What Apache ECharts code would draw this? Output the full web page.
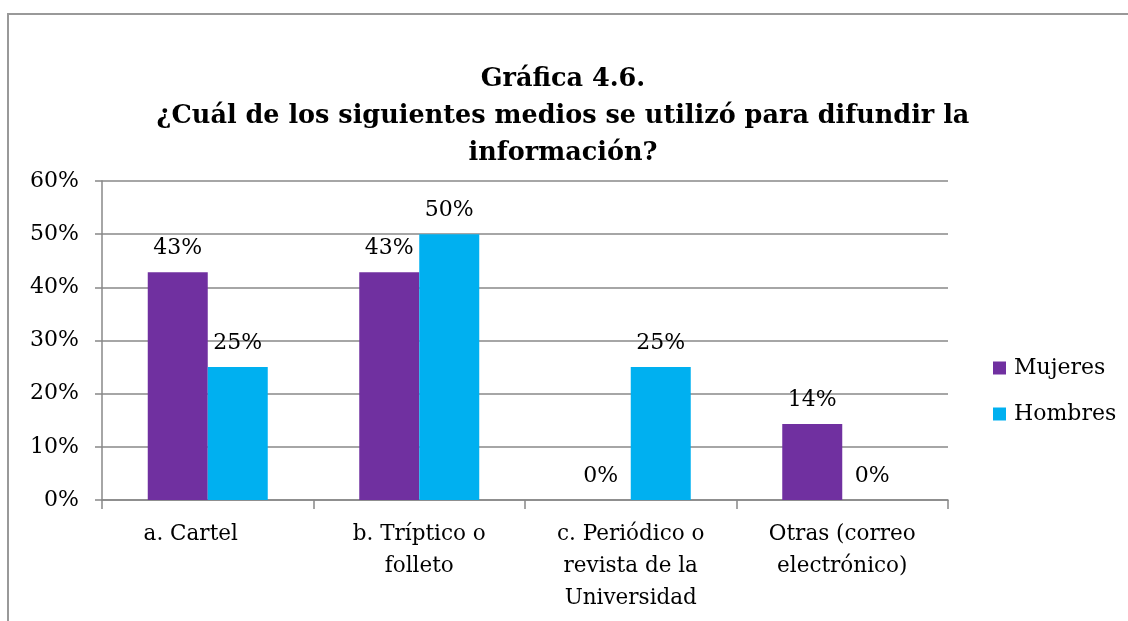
<!DOCTYPE html>
<html><head><meta charset="utf-8">
<script src="https://cdn.jsdelivr.net/npm/echarts@6/dist/echarts.min.js"></script>
<style>html,body{margin:0;padding:0;background:#fff}#c{width:1128px;height:621px}</style>
</head><body><div id="c"></div>
<script>
var categories = ['a. Cartel', 'b. Tríptico o\nfolleto', 'c. Periódico o\nrevista de la\nUniversidad', 'Otras (correo\nelectrónico)'];
var mujeres = [42.86, 42.86, 0, 14.29];
var hombres = [25, 50, 25, 0];
var seriesNames = ['Mujeres', 'Hombres'];
var FONT = '"DejaVu Serif", "Liberation Serif", serif';
var chart = echarts.init(document.getElementById('c'));
var lbl = {show: true, position: 'top', distance: 13, color: '#000', fontSize: 22, fontFamily: FONT,
  formatter: function(p){ return Math.round(p.value) + '%'; }};
chart.setOption({
  animation: false,
  title: {
    text: 'Gráfica 4.6.\n¿Cuál de los siguientes medios se utilizó para difundir la\ninformación?',
    left: 558, top: 56, textAlign: 'center',
    textStyle: {fontFamily: FONT, fontWeight: 'bold', fontSize: 25.5, lineHeight: 37, color: '#000'}
  },
  graphic: [{type: 'rect', shape: {x: 8, y: 14, width: 1200, height: 700}, style: {fill: 'none', stroke: '#999', lineWidth: 2}, silent: true}],
  legend: {
    orient: 'vertical', left: 988, top: 352, itemWidth: 13, itemHeight: 13, itemGap: 24,
    icon: 'rect', textStyle: {fontFamily: FONT, fontSize: 22, color: '#000', padding: [0, 0, 0, 3]}, data: seriesNames
  },
  grid: {left: 102, right: 180, top: 181, bottom: 121, containLabel: false},
  xAxis: {
    type: 'category', data: categories,
    axisLine: {lineStyle: {color: '#888', width: 1.5}},
    axisTick: {show: true, length: 9, lineStyle: {color: '#888', width: 1.5}},
    axisLabel: {fontFamily: FONT, fontSize: 21.5, color: '#000', lineHeight: 32, margin: 18, interval: 0,
      formatter: function(v, i){ return i === 0 ? '{s|' + v + '}' : v; },
      rich: {s: {fontFamily: FONT, fontSize: 21.5, color: '#000', lineHeight: 32, padding: [0, 34, 0, 0]}}}
  },
  yAxis: {
    type: 'value', min: 0, max: 60, interval: 10,
    axisLine: {show: true, lineStyle: {color: '#888', width: 1.5}},
    axisTick: {show: true, length: 7, lineStyle: {color: '#888', width: 1.5}},
    splitLine: {lineStyle: {color: '#888', width: 1.5}},
    axisLabel: {formatter: '{value}%', fontFamily: FONT, fontSize: 22, color: '#000', margin: 23}
  },
  series: [
    {name: seriesNames[0], type: 'bar', data: mujeres, barWidth: 60, barGap: '0%', itemStyle: {color: '#7030A0'}, label: lbl},
    {name: seriesNames[1], type: 'bar', data: hombres, barWidth: 60, barGap: '0%', itemStyle: {color: '#00B0F0'}, label: lbl}
  ]
});
</script></body></html>
